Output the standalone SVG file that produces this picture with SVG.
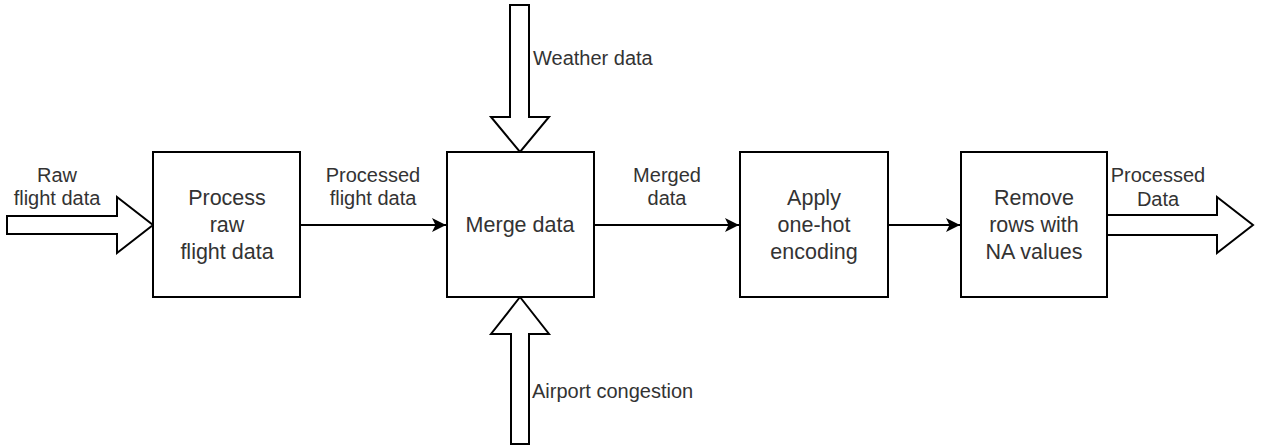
<svg xmlns="http://www.w3.org/2000/svg" width="1261" height="446" viewBox="0 0 1261 446">
<style>
.box{fill:#fff;stroke:#000;stroke-width:2}
.big{fill:#fff;stroke:#000;stroke-width:2;stroke-linejoin:miter}
.bt{font-family:"Liberation Sans",Arial,sans-serif;font-size:21.5px;fill:#333;text-anchor:middle}
.lt{font-family:"Liberation Sans",Arial,sans-serif;font-size:20px;fill:#333}
.mid{text-anchor:middle}
.edge{stroke:#000;stroke-width:2;fill:none}
</style>
<defs>
<marker id="arr" markerUnits="userSpaceOnUse" markerWidth="16" markerHeight="16" refX="14" refY="7" orient="auto">
<path d="M0,0 L14,7 L0,14 L3.5,7 Z" fill="#000"/>
</marker>
</defs>
<rect width="1261" height="446" fill="#fff"/>
<g id="connectors">
<path class="edge" d="M300,225 L446,225" marker-end="url(#arr)"/>
<path class="edge" d="M594,225 L739,225" marker-end="url(#arr)"/>
<path class="edge" d="M888,225 L960,225" marker-end="url(#arr)"/>
<polygon id="in-raw" class="big" points="7,216 117,216 117,197 153,225 117,253 117,234 7,234"/>
<polygon id="in-weather" class="big" points="510,5 529,5 529,117 549,117 520,152 491,117 510,117"/>
<polygon id="in-airport" class="big" points="511,444 529,444 529,334 549,334 520,297 491,334 511,334"/>
<polygon id="out-processed" class="big" points="1107,215 1217,215 1217,197 1253,225 1217,253 1217,235 1107,235"/>
</g>
<g id="labels">
<text class="lt mid" x="57" y="182">Raw</text>
<text class="lt mid" x="57" y="205">flight data</text>
<text class="lt mid" x="373" y="182">Processed</text>
<text class="lt mid" x="373" y="205">flight data</text>
<text class="lt mid" x="667" y="182">Merged</text>
<text class="lt mid" x="667" y="205">data</text>
<text class="lt mid" x="1158" y="182">Processed</text>
<text class="lt mid" x="1158" y="206">Data</text>
<text class="lt" x="533" y="65">Weather data</text>
<text class="lt" x="532" y="398">Airport congestion</text>
</g>
<g id="node-process">
<rect class="box" x="153" y="152" width="147" height="145"/>
<text class="bt" x="227" y="205">Process</text>
<text class="bt" x="227" y="232">raw</text>
<text class="bt" x="227" y="259">flight data</text>
</g>
<g id="node-merge">
<rect class="box" x="447" y="152" width="147" height="145"/>
<text class="bt" x="520" y="232">Merge data</text>
</g>
<g id="node-onehot">
<rect class="box" x="740" y="152" width="148" height="145"/>
<text class="bt" x="814" y="205">Apply</text>
<text class="bt" x="814" y="232">one-hot</text>
<text class="bt" x="814" y="259">encoding</text>
</g>
<g id="node-remove">
<rect class="box" x="961" y="152" width="146" height="145"/>
<text class="bt" x="1034" y="205">Remove</text>
<text class="bt" x="1034" y="232">rows with</text>
<text class="bt" x="1034" y="259">NA values</text>
</g>
</svg>
